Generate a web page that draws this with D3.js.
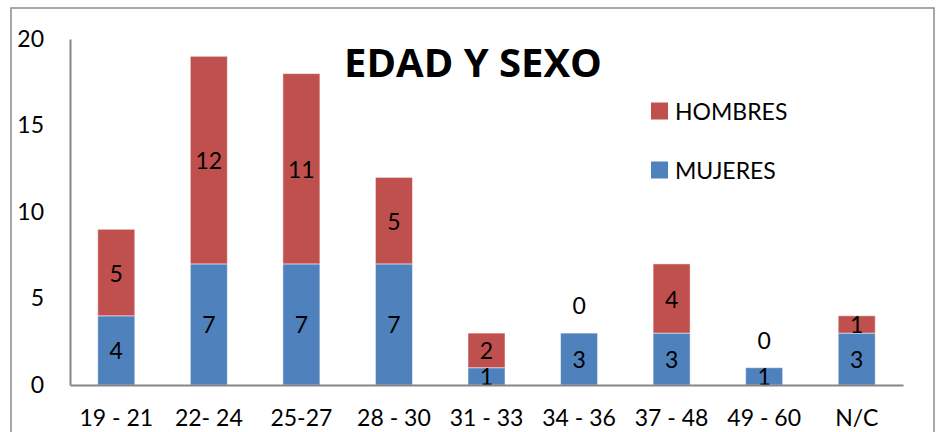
<!DOCTYPE html>
<html>
<head>
<meta charset="utf-8">
<script src="https://cdn.jsdelivr.net/npm/d3@7"></script>
<style>
  body { margin: 0; background: #fff; }
  svg { display: block; font-family: Lato, "Open Sans", sans-serif; }
</style>
</head>
<body>
<svg id="chart" width="941" height="432"></svg>
<script>
const categories = ['19 - 21', '22- 24', '25-27', '28 - 30', '31 - 33', '34 - 36', '37 - 48', '49 - 60', 'N/C'];
const mujeres = [4, 7, 7, 7, 1, 3, 3, 1, 3];
const hombres = [5, 12, 11, 5, 2, 0, 4, 0, 1];
const yTicks = [0, 5, 10, 15, 20];
const seriesNames = ['MUJERES', 'HOMBRES'];
const colors = { MUJERES: '#4F81BD', HOMBRES: '#C0504D' };

const svg = d3.select('#chart');

// outer chart border
svg.append('rect')
    .attr('x', 11).attr('y', 8)
    .attr('width', 923).attr('height', 440)
    .attr('fill', 'none')
    .attr('stroke', '#8c8c8c')
    .attr('stroke-width', 1.5);

const plotLeft = 70, plotRight = 903, plotTop = 39, plotBottom = 385;

const x = d3.scaleBand().domain(categories).range([plotLeft, plotRight]).paddingInner(0.6).paddingOuter(0.3);
const y = d3.scaleLinear().domain([0, 20]).range([plotBottom, plotTop]);

const rows = categories.map((c, i) => ({ cat: c, MUJERES: mujeres[i], HOMBRES: hombres[i] }));
const stacked = d3.stack().keys(seriesNames)(rows);

// bars
stacked.forEach(layer => {
    svg.append('g').selectAll('rect')
        .data(layer)
        .join('rect')
        .attr('x', d => x(d.data.cat))
        .attr('y', d => y(d[1]))
        .attr('width', x.bandwidth())
        .attr('height', d => y(d[0]) - y(d[1]))
        .attr('fill', colors[layer.key])
        .attr('stroke', 'rgba(255,255,255,0.5)')
        .attr('stroke-width', 1);
});

// data labels
stacked.forEach(layer => {
    svg.append('g').selectAll('text')
        .data(layer)
        .join('text')
        .attr('x', d => x(d.data.cat) + x.bandwidth() / 2)
        .attr('y', d => {
            const v = d[1] - d[0];
            return v === 0 ? y(d[1]) - 28 : (y(d[0]) + y(d[1])) / 2;
        })
        .attr('text-anchor', 'middle')
        .attr('dominant-baseline', 'central')
        .attr('font-size', 23)
        .attr('fill', '#000')
        .text(d => d[1] - d[0]);
});

// y axis
const yAxis = svg.append('g')
    .attr('transform', `translate(${plotLeft},0)`)
    .call(d3.axisLeft(y).tickValues(yTicks).tickSize(0).tickPadding(26));
yAxis.select('.domain').attr('stroke', '#868686').attr('stroke-width', 2);
yAxis.selectAll('text').attr('font-size', 23).attr('fill', '#000').attr('font-family', 'Lato, sans-serif');

// x axis
const xAxis = svg.append('g')
    .attr('transform', `translate(0,${plotBottom})`)
    .call(d3.axisBottom(x).tickSize(0).tickPadding(25));
xAxis.select('.domain').attr('stroke', '#868686').attr('stroke-width', 2);
xAxis.selectAll('text').attr('font-size', 23).attr('fill', '#000').attr('font-family', 'Lato, sans-serif');

// title
svg.append('text')
    .attr('x', 473).attr('y', 61)
    .attr('text-anchor', 'middle')
    .attr('dominant-baseline', 'central')
    .attr('font-size', 40)
    .attr('font-weight', 'bold')
    .attr('font-family', '"Open Sans", sans-serif')
    .text('EDAD Y SEXO');

// legend
const legendItems = ['HOMBRES', 'MUJERES'];
const legend = svg.append('g').selectAll('g')
    .data(legendItems)
    .join('g')
    .attr('transform', (d, i) => `translate(651,${111 + i * 59})`);
legend.append('rect')
    .attr('x', 0).attr('y', -8.5)
    .attr('width', 17).attr('height', 17)
    .attr('fill', d => colors[d]);
legend.append('text')
    .attr('x', 24).attr('y', 0)
    .attr('dominant-baseline', 'central')
    .attr('font-size', 23)
    .text(d => d);
</script>
</body>
</html>
